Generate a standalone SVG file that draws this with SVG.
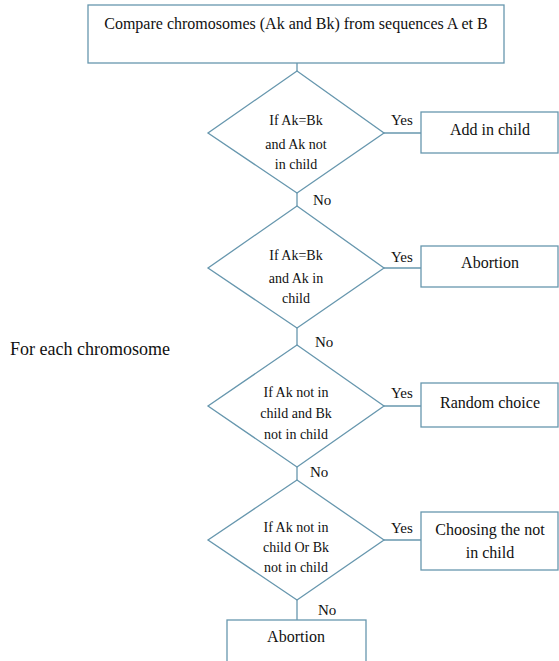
<svg xmlns="http://www.w3.org/2000/svg" width="559" height="661" viewBox="0 0 559 661">
<style>
.s{fill:#fff;stroke:#6797ae;stroke-width:1.3}
.c{fill:none;stroke:#6797ae;stroke-width:1.3}
text{font-family:"Times New Roman",Tinos,"Liberation Serif","Noto Serif","DejaVu Serif",Georgia,serif;fill:#111}
.m{text-anchor:middle}
.d{font-size:14px}
.b{font-size:16px}
.l{font-size:15px}
</style>
<rect width="559" height="661" fill="#fff"/>
<g id="connectors">
<line class="c" x1="297" y1="63" x2="297" y2="71"/>
<line class="c" x1="297" y1="193" x2="297" y2="206"/>
<line class="c" x1="297" y1="328" x2="297" y2="345"/>
<line class="c" x1="297" y1="467" x2="297" y2="480"/>
<line class="c" x1="297" y1="600" x2="297" y2="620"/>
<line class="c" x1="384" y1="133" x2="421" y2="133"/>
<line class="c" x1="384" y1="268" x2="421" y2="268"/>
<line class="c" x1="384" y1="406" x2="421" y2="406"/>
<line class="c" x1="384" y1="540" x2="421" y2="540"/>
<text class="l" x="391" y="125">Yes</text>
<text class="l" x="391" y="262">Yes</text>
<text class="l" x="391" y="398">Yes</text>
<text class="l" x="391" y="533">Yes</text>
<text class="l" x="313" y="205">No</text>
<text class="l" x="315" y="347">No</text>
<text class="l" x="310" y="477">No</text>
<text class="l" x="318" y="615">No</text>
</g>
<g id="start">
<rect class="s" x="88" y="5" width="416" height="58"/>
<text class="b m" x="296" y="29">Compare chromosomes (Ak and Bk) from sequences A et B</text>
</g>
<g id="label">
<text x="10" y="355" font-size="18">For each chromosome</text>
</g>
<g id="d1">
<polygon class="s" points="297,71 384,133 297,193 208,133"/>
<text class="d m" x="296" y="125">If Ak=Bk</text>
<text class="d m" x="296" y="149">and Ak not</text>
<text class="d m" x="296" y="169">in child</text>
</g>
<g id="r1">
<rect class="s" x="421" y="112" width="137" height="41"/>
<text class="b m" x="490" y="135">Add in child</text>
</g>
<g id="d2">
<polygon class="s" points="297,206 384,268 297,328 208,268"/>
<text class="d m" x="296" y="260">If Ak=Bk</text>
<text class="d m" x="296" y="283">and Ak in</text>
<text class="d m" x="296" y="303">child</text>
</g>
<g id="r2">
<rect class="s" x="421" y="246" width="137" height="41"/>
<text class="b m" x="490" y="268">Abortion</text>
</g>
<g id="d3">
<polygon class="s" points="297,345 384,406 297,467 208,406"/>
<text class="d m" x="296" y="397">If Ak not in</text>
<text class="d m" x="296" y="418">child and Bk</text>
<text class="d m" x="296" y="439">not in child</text>
</g>
<g id="r3">
<rect class="s" x="421" y="383" width="137" height="44"/>
<text class="b m" x="490" y="408">Random choice</text>
</g>
<g id="d4">
<polygon class="s" points="297,480 384,540 297,600 208,540"/>
<text class="d m" x="296" y="532">If Ak not in</text>
<text class="d m" x="296" y="552">child Or Bk</text>
<text class="d m" x="296" y="572">not in child</text>
</g>
<g id="r4">
<rect class="s" x="421" y="512" width="137" height="58"/>
<text class="b m" x="490" y="535">Choosing the not</text>
<text class="b m" x="490" y="558">in child</text>
</g>
<g id="end">
<rect class="s" x="227" y="620" width="139" height="50"/>
<text class="b m" x="296" y="642">Abortion</text>
</g>
</svg>
